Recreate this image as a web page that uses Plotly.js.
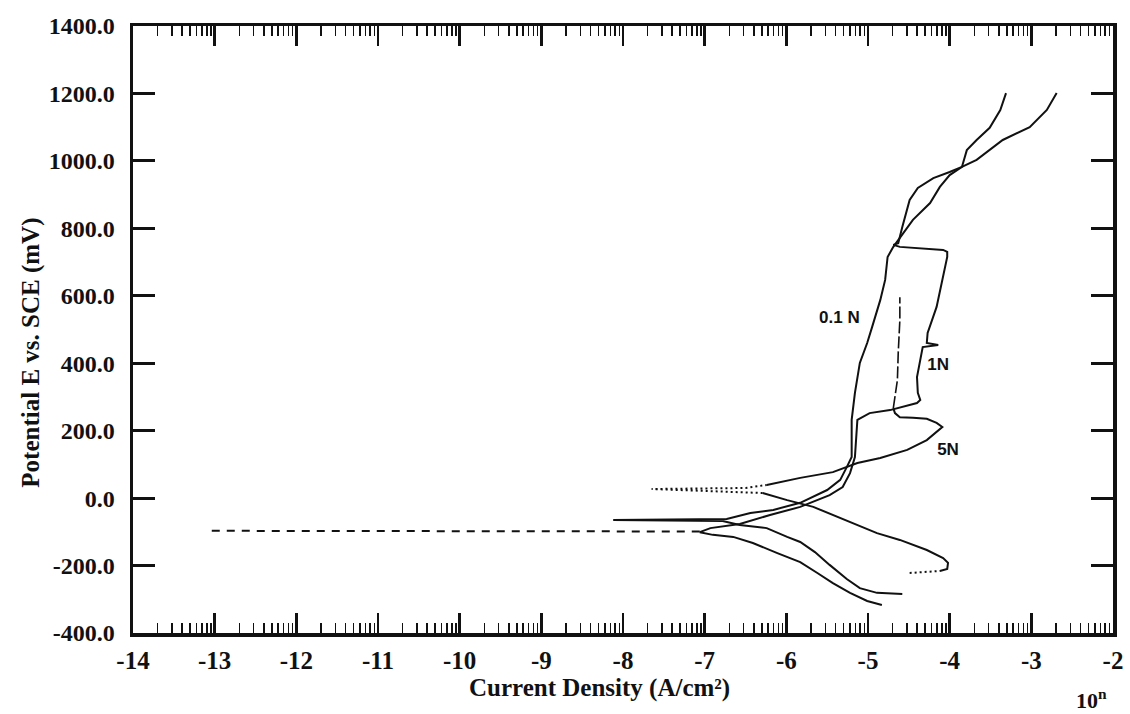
<!DOCTYPE html>
<html>
<head>
<meta charset="utf-8">
<script src="https://cdn.plot.ly/plotly-3.0.1.min.js"></script>
<style>html,body{margin:0;padding:0;background:#fff;}#chart{width:1130px;height:714px;}</style>
</head>
<body>
<div id="chart"></div>
<script>
// ---- Data (x = log10 current density, E = potential in mV vs SCE) ----
// 0.1 N curve
const x01 = [-4.58,-4.89,-5.10,-5.26,-5.47,-5.65,-5.83,-5.99,-6.24,-6.57,-6.78,-8.12,-6.73,-6.44,-6.16,-5.83,-5.50,-5.34,-5.26,-5.20,-5.20,-5.16,-5.10,-5.01,-4.95,-4.85,-4.79,-4.76,-4.69,-4.63,-4.45,-4.24,-4.12,-4.00,-3.85,-3.79,-3.67,-3.51,-3.38,-3.31];
const e01 = [-284,-281,-267,-240,-198,-160,-130,-115,-89,-80,-68,-65,-62,-44,-35,-14,24,54,92,122,232,312,401,460,507,587,647,715,745,765,825,875,923,958,982,1032,1062,1098,1151,1201];

// 1 N curve
const x1 = [-4.83,-5.01,-5.22,-5.43,-5.62,-5.83,-6.11,-6.41,-6.65,-6.90,-7.06,-6.93,-6.57,-6.20,-5.83,-5.47,-5.31,-5.22,-5.16,-5.13,-4.98,-4.73,-4.40,-4.36,-4.39,-4.40,-4.36,-4.33,-4.14,-4.28,-4.27,-4.16,-4.03,-4.03,-4.08,-4.49,-4.61,-4.69,-4.63,-4.58,-4.49,-4.39,-4.20,-4.00,-3.85,-3.67,-3.35,-3.02,-2.81,-2.69];
const e1 = [-317,-305,-281,-252,-222,-190,-163,-133,-115,-109,-101,-89,-77,-50,-26,9,33,74,122,232,252,261,282,291,312,359,410,448,454,460,490,567,715,730,736,742,745,751,756,804,884,920,949,967,982,1003,1062,1100,1151,1201];
// 1 N corrosion-potential spike (sparse, drawn dashed)
const x1Spike = [-7.06,-13.05];
const e1Spike = [-99,-97];

// 5 N curve (pieces)
const x5Start = [-4.49,-4.12];
const e5Start = [-222,-216];
const x5Cath = [-4.12,-4.03,-4.02,-4.08,-4.28,-4.61,-4.89,-5.22,-5.67,-5.99,-6.29];
const e5Cath = [-216,-210,-192,-178,-154,-124,-104,-71,-26,-6,15];
const x5Spike = [-6.29,-6.60,-7.65,-6.50,-6.24];
const e5Spike = [15,18,27,30,39];
const x5Anod = [-6.24,-5.83,-5.43,-5.13,-4.85,-4.52,-4.28,-4.09,-4.16,-4.28,-4.45,-4.61,-4.67,-4.69];
const e5Anod = [39,60,77,104,119,143,172,211,223,235,238,240,252,267];
const x5End = [-4.69,-4.64,-4.63,-4.61,-4.61];
const e5End = [267,350,430,528,596];

// Curve labels
const labelText = ['0.1 N','1N','5N'];
const labelX = [-5.35,-4.14,-4.02];
const labelE = [531,392,140];

// Axis ticks
const xTickVals = [-14,-13,-12,-11,-10,-9,-8,-7,-6,-5,-4,-3,-2];
const xTickText = ['-14','-13','-12','-11','-10','-9','-8','-7','-6','-5','-4','-3','-2'];
const yTickVals = [-400,-200,0,200,400,600,800,1000,1200,1400];
const yTickText = ['-400.0','-200.0','0.0','200.0','400.0','600.0','800.0','1000.0','1200.0','1400.0'];
const decades = [-14,-13,-12,-11,-10,-9,-8,-7,-6,-5,-4,-3];
const minorFactors = [2,3,4,5,6,7,8,9];
const minorTickVals = decades.flatMap(d => minorFactors.map(k => d + Math.log10(k)));

// ---- Traces ----
const ink = '#111';
function line(x, y, dash, w) {
  return {x: x, y: y, type: 'scatter', mode: 'lines', hoverinfo: 'skip',
          line: {color: ink, width: w || 2, dash: dash || 'solid'}, showlegend: false};
}
const traces = [
  line(x01, e01, 'solid', 2),
  line(x1, e1, 'solid', 2),
  line(x1Spike, e1Spike, '8px,7px', 2),
  line(x5Start, e5Start, '2px,3px', 2),
  line(x5Cath, e5Cath, 'solid', 2),
  line(x5Spike, e5Spike, '2px,3px', 2),
  line(x5Anod, e5Anod, 'solid', 2),
  line(x5End, e5End, '12px,3px', 1.6),
  {x: labelX, y: labelE, text: labelText, type: 'scatter', mode: 'text', xaxis: 'x2',
   textfont: {family: 'Liberation Sans, Arial, sans-serif', size: 17, color: ink, weight: 700},
   hoverinfo: 'skip', showlegend: false}
];

const serif = 'Liberation Serif';
const layout = {
  width: 1130, height: 714,
  margin: {l: 133, r: 17, t: 26, b: 81},
  paper_bgcolor: '#fff', plot_bgcolor: '#fff',
  showlegend: false,
  xaxis: {
    range: [-14, -2], tickmode: 'array', tickvals: xTickVals,
    ticktext: xTickText.map(t => '<b>' + t + '</b>'),
    ticks: 'inside', ticklen: 20, tickwidth: 2.5, tickcolor: ink,
    showline: true, linewidth: 3.5, linecolor: ink, mirror: 'ticks',
    showgrid: false, zeroline: false,
    ticklabelstandoff: 2,
    tickfont: {family: serif, size: 25, color: ink, weight: 'bold'}
  },
  xaxis2: {
    range: [-14, -2], overlaying: 'x', anchor: 'y', side: 'bottom',
    tickmode: 'array', tickvals: minorTickVals, showticklabels: false,
    ticks: 'inside', ticklen: 10, tickwidth: 1.5, tickcolor: ink,
    showline: true, linewidth: 3.5, linecolor: ink, mirror: 'ticks',
    showgrid: false, zeroline: false
  },
  yaxis: {
    range: [-400, 1400], tickmode: 'array', tickvals: yTickVals, ticktext: yTickText,
    ticks: 'inside', ticklen: 22, tickwidth: 3, tickcolor: ink,
    showline: true, linewidth: 3.5, linecolor: ink, mirror: 'ticks',
    showgrid: false, zeroline: false,
    ticklabelstandoff: 10,
    tickfont: {family: serif, size: 24, color: ink, weight: 700}
  },
  annotations: [
    {text: 'Current Density (A/cm²)', xref: 'paper', yref: 'paper', x: 0.4765, y: -0.0906,
     xanchor: 'center', yanchor: 'middle', showarrow: false,
     font: {family: serif, size: 25, color: ink, weight: 700}},
    {text: 'Potential E vs. SCE (mV)', xref: 'paper', yref: 'paper', x: -0.105, y: 0.462,
     xanchor: 'center', yanchor: 'middle', textangle: -90, showarrow: false,
     font: {family: serif, size: 25, color: ink, weight: 700}},
    {text: '10<sup>n</sup>', xref: 'paper', yref: 'paper', x: 0.978, y: -0.108,
     xanchor: 'center', yanchor: 'middle', showarrow: false,
     font: {family: serif, size: 22, color: ink, weight: 700}}
  ]
};

Plotly.newPlot('chart', traces, layout, {staticPlot: true, displayModeBar: false});
</script>
</body>
</html>
